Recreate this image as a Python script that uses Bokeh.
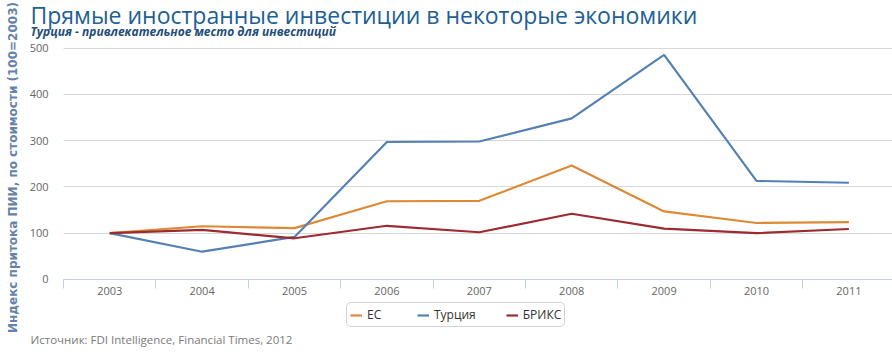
import math
from bokeh.plotting import figure
from bokeh.models import (ColumnDataSource, FixedTicker, Legend, LegendItem, Label,
                          Range1d, Grid)
from bokeh.embed import file_html
from bokeh.resources import INLINE

years = ["2003", "2004", "2005", "2006", "2007", "2008", "2009", "2010", "2011"]
eu = [100, 115, 111, 169, 170, 246, 147, 122, 124]
turkey = [100, 60, 92, 297, 298, 348, 485, 213, 209]
brics = [100, 107, 89, 116, 102, 142, 110, 100, 109]
y_ticks = [0, 100, 200, 300, 400, 500]

series_names = ["ЕС", "Турция", "БРИКС"]
series_colors = ["#dd8a36", "#5580b5", "#9d2b30"]

title_text = "Прямые иностранные инвестиции в некоторые экономики"
subtitle_text = "Турция - привлекательное место для инвестиций"
y_title = "Индекс притока ПИИ, по стоимости (100=2003)"
source_text = "Источник: FDI Intelligence, Financial Times, 2012"

FONT = "Open Sans"
W, H = 892, 352

xs = list(range(len(years)))
x_lo, x_hi = -0.5, 8.472

# frame covers the whole canvas; axes are pinned inside it
p = figure(width=W, height=H, output_backend="svg", toolbar_location=None,
           x_range=Range1d(-1.182, x_hi), y_range=Range1d(-157.7, 602.6),
           min_border_left=0, min_border_right=0, min_border_top=0,
           min_border_bottom=0)
p.outline_line_color = None
p.background_fill_color = "white"
p.border_fill_color = "white"

# grid lines limited to the plotting area
p.xgrid.grid_line_color = None
if "cross_bounds" in Grid.properties():
    p.ygrid.ticker = FixedTicker(ticks=y_ticks)
    p.ygrid.cross_bounds = (x_lo, x_hi)
    p.ygrid.grid_line_color = "#d8d8d8"
else:
    p.ygrid.grid_line_color = None
    p.segment(x0=[x_lo] * len(y_ticks), x1=[x_hi] * len(y_ticks), y0=y_ticks, y1=y_ticks,
              line_color="#d8d8d8", line_width=1)

renderers = []
for vals, color in zip([eu, turkey, brics], series_colors):
    src = ColumnDataSource(dict(x=xs, y=vals))
    r = p.line("x", "y", source=src, line_color=color, line_width=2.2)
    renderers.append(r)

# x axis pinned at y = 0
xa = p.xaxis[0]
xa.fixed_location = 0
xa.bounds = (x_lo, x_hi)
xa.ticker = FixedTicker(ticks=xs, minor_ticks=[i + 0.5 for i in range(-1, len(years))])
xa.major_label_overrides = {i: y for i, y in enumerate(years)}
xa.major_tick_line_color = None
xa.major_tick_out = 0
xa.major_tick_in = 0
xa.minor_tick_line_color = "#c0d0e0"
xa.minor_tick_out = 9
xa.minor_tick_in = 0
xa.axis_line_color = "#c0d0e0"
xa.major_label_text_font = FONT
xa.major_label_text_font_size = "11px"
xa.major_label_text_color = "#666666"
xa.major_label_standoff = -1

# y axis pinned at the left edge of the plotting area
ya = p.yaxis[0]
ya.fixed_location = x_lo
ya.bounds = (0, 500)
ya.ticker = FixedTicker(ticks=y_ticks)
ya.axis_line_color = None
ya.major_tick_line_color = None
ya.minor_tick_line_color = None
ya.major_label_text_font = FONT
ya.major_label_text_font_size = "11px"
ya.major_label_text_color = "#666666"
ya.major_label_standoff = 9

# legend
legend = Legend(items=[LegendItem(label=n, renderers=[r]) for n, r in zip(series_names, renderers)],
                orientation="horizontal", location=(346, H - 327),
                label_text_font=FONT, label_text_font_size="12px",
                label_text_color="#333333",
                border_line_color="#a8a8a8", border_line_width=1,
                background_fill_color="white", background_fill_alpha=1,
                glyph_width=12, glyph_height=12, spacing=30, padding=3,
                label_standoff=5, margin=0)
if "border_radius" in Legend.properties():
    legend.border_radius = 5
p.add_layout(legend, "center")

# texts (screen units measured from the bottom-left of the frame)
p.add_layout(Label(x=30, y=H - 14.5, x_units="screen", y_units="screen",
                   text=title_text, text_font=FONT, text_font_size="23px",
                   text_color="#215f94", text_baseline="middle"))
p.add_layout(Label(x=30, y=H - 31, x_units="screen", y_units="screen",
                   text=subtitle_text, text_font=FONT, text_font_size="12px",
                   text_font_style="bold italic", text_color="#1f4e79",
                   text_baseline="alphabetic"))
p.add_layout(Label(x=30, y=H - 339, x_units="screen", y_units="screen",
                   text=source_text, text_font=FONT, text_font_size="11.5px",
                   text_color="#7a7a7a", text_baseline="alphabetic"))
p.add_layout(Label(x=12, y=H - 167, x_units="screen", y_units="screen",
                   text=y_title, text_font="DejaVu Sans", text_font_size="12px",
                   text_font_style="bold", text_color="#6483a8",
                   angle=math.pi / 2, text_align="center", text_baseline="middle"))

open("out.html", "w").write(file_html(p, INLINE))
